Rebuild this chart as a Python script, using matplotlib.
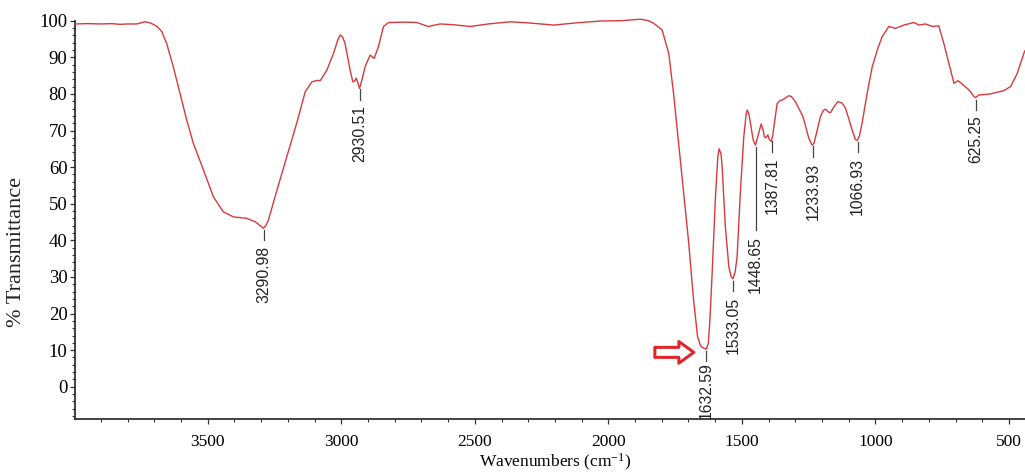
import numpy as np
import matplotlib
matplotlib.use("Agg")
import matplotlib.pyplot as plt
from matplotlib.ticker import MultipleLocator
from matplotlib.transforms import offset_copy

# ---------------- data ----------------
wavenumber = [3997, 3950, 3900, 3860, 3829, 3800, 3766, 3745, 3735, 3720, 3704, 3688,
              3672, 3654, 3629, 3604, 3579, 3554, 3516, 3479, 3442, 3404, 3354, 3323,
              3300, 3292, 3283, 3273, 3241, 3204, 3167, 3135, 3110, 3090, 3079, 3054,
              3029, 3012, 3004, 2995, 2986, 2967, 2957, 2950, 2944, 2938, 2932, 2922,
              2911, 2892, 2877, 2861, 2842, 2823, 2760, 2717, 2690, 2674, 2650, 2630,
              2580, 2517, 2450, 2367, 2300, 2205, 2120, 2030, 1950, 1880, 1850, 1831,
              1799, 1774, 1756, 1737, 1718, 1699, 1681, 1666, 1655, 1645, 1633, 1626,
              1620, 1612, 1599, 1590, 1585, 1578, 1574, 1562, 1549, 1540, 1533, 1525,
              1518, 1506, 1493, 1484, 1480, 1474, 1468, 1458, 1449, 1440, 1428, 1420,
              1416, 1410, 1403, 1397, 1390, 1385, 1375, 1368, 1356, 1349, 1325, 1315,
              1300, 1274, 1268, 1250, 1237, 1230, 1215, 1206, 1195, 1187, 1175, 1168,
              1155, 1141, 1125, 1112, 1087, 1075, 1068, 1060, 1050, 1031, 1012, 993,
              975, 950, 925, 894, 856, 838, 812, 787, 763, 744, 725, 706, 691, 675,
              650, 631, 625, 613, 569, 519, 494, 469, 444, 440]
transmittance = [99.1, 99.2, 99.1, 99.2, 99.0, 99.1, 99.1, 99.5, 99.7, 99.5, 99.0, 98.3,
                 97.0, 93.8, 87.4, 80.2, 72.9, 66.5, 59.2, 51.9, 47.8, 46.4, 46.0, 45.1,
                 43.8, 43.3, 44.0, 45.5, 53.7, 62.8, 72.0, 80.6, 83.3, 83.7, 83.6, 86.5,
                 91.1, 95.0, 96.1, 95.5, 93.8, 86.5, 83.3, 83.5, 84.3, 83.0, 81.5, 84.0,
                 87.4, 90.6, 89.7, 92.9, 98.4, 99.5, 99.6, 99.5, 98.8, 98.4, 98.8, 99.1,
                 98.9, 98.4, 99.1, 99.7, 99.4, 98.8, 99.4, 99.9, 100.0, 100.4, 100.0, 99.3,
                 97.5, 91.1, 80.2, 66.5, 52.8, 39.2, 23.7, 13.7, 11.2, 10.6, 10.3, 11.8,
                 18.0, 30.1, 51.9, 63.0, 65.0, 63.5, 60.1, 43.7, 32.8, 30.0, 29.5, 31.5,
                 35.5, 52.8, 68.3, 74.5, 75.6, 74.5, 72.0, 67.5, 66.0, 68.5, 71.8, 70.0,
                 68.3, 68.0, 68.8, 67.5, 67.0, 68.5, 73.8, 77.4, 78.2, 78.3, 79.5, 79.3,
                 77.9, 74.2, 72.9, 68.0, 66.0, 66.5, 71.0, 73.8, 75.5, 75.8, 75.0, 74.9,
                 76.5, 77.9, 77.5, 76.1, 70.1, 67.5, 67.3, 68.5, 72.0, 80.2, 87.4, 92.0,
                 95.6, 98.4, 97.9, 98.8, 99.5, 98.8, 99.1, 98.4, 98.6, 93.8, 88.4, 82.9,
                 83.6, 82.7, 81.1, 79.3, 79.0, 79.7, 80.0, 80.9, 82.0, 85.6, 91.1, 91.8]

peak_wn = [3290.98, 2930.51, 1632.59, 1533.05, 1448.65, 1387.81, 1233.93, 1066.93, 625.25]
peak_labels = ["3290.98", "2930.51", "1632.59", "1533.05", "1448.65", "1387.81",
               "1233.93", "1066.93", "625.25"]

x_ticks = [3500, 3000, 2500, 2000, 1500, 1000, 500]
y_ticks = [0, 10, 20, 30, 40, 50, 60, 70, 80, 90, 100]

# ---------------- style ----------------
plt.rcParams['font.family'] = ['Liberation Serif', 'DejaVu Serif']
plt.rcParams['mathtext.fontset'] = 'custom'
plt.rcParams['mathtext.rm'] = 'Liberation Serif'
plt.rcParams['mathtext.it'] = 'Liberation Serif:italic'

RED = '#d8393c'

fig = plt.figure(figsize=(10.25, 4.72), dpi=100)
ax = fig.add_axes([0.0732, 0.1123, 0.9268, 0.8439])

wn = np.array(wavenumber, dtype=float)
tr = np.array(transmittance, dtype=float)
ax.plot(wn, tr, color=RED, lw=1.0, clip_on=False, zorder=3)

ax.set_xlim(3997, 440)
ax.set_ylim(-8.8, 100)

ax.set_xticks(x_ticks)
ax.set_yticks(y_ticks)
ax.xaxis.set_minor_locator(MultipleLocator(100))
ax.yaxis.set_minor_locator(MultipleLocator(2))
ax.tick_params(axis='both', which='major', direction='out', length=3.5, width=0.9,
               color='#333333')
ax.tick_params(axis='both', which='minor', direction='out', length=2.2, width=0.8,
               color='#333333')
ax.tick_params(axis='x', which='major', pad=7, labelsize=12.5)
ax.tick_params(axis='y', which='major', pad=2, labelsize=13.5)

for s in ['top', 'right']:
    ax.spines[s].set_visible(False)
for s in ['left', 'bottom']:
    ax.spines[s].set_linewidth(1.2)
    ax.spines[s].set_color('#222222')

ax.set_xlabel('Wavenumbers (cm$^{-1}$)', fontsize=12.5)
ax.set_ylabel('% Transmittance', fontsize=16, color='#222222')
ax.xaxis.set_label_coords(0.505, -0.082)
ax.yaxis.set_label_coords(-0.052, 0.42)

# ---------------- peak annotations ----------------
line_len = {"1448.65": 60.0}
text_gap = {"1632.59": 0.5}
for p, lab in zip(peak_wn, peak_labels):
    yv = float(np.interp(p, wn[::-1], tr[::-1]))
    L = line_len.get(lab, 7.5)
    g = text_gap.get(lab, 4.0)
    t0 = offset_copy(ax.transData, fig=fig, x=0, y=-1.5, units='points')
    t1 = offset_copy(ax.transData, fig=fig, x=0, y=-1.5 - L, units='points')
    p0 = t0.transform((p, yv))
    p1 = t1.transform((p, yv))
    ax.plot([p0[0], p1[0]], [p0[1], p1[1]], transform=None, color='#444444', lw=0.9,
            clip_on=False, zorder=2)
    ax.annotate(lab, xy=(p, yv), xytext=(0, -1.5 - L - g), textcoords='offset points',
                rotation=90, ha='center', va='top', fontsize=11.3,
                family=['Liberation Sans', 'DejaVu Sans'], color='#222222')

# ---------------- hollow red arrow ----------------
ax.annotate('', xy=(1680, 9.4), xytext=(1826, 9.4),
            arrowprops=dict(arrowstyle='simple,head_width=1.3,head_length=0.9,tail_width=0.6',
                            fc='white', ec='#e0262b', lw=2.2, shrinkA=0, shrinkB=0,
                            mutation_scale=12))

fig.savefig('out.png', dpi=100)
